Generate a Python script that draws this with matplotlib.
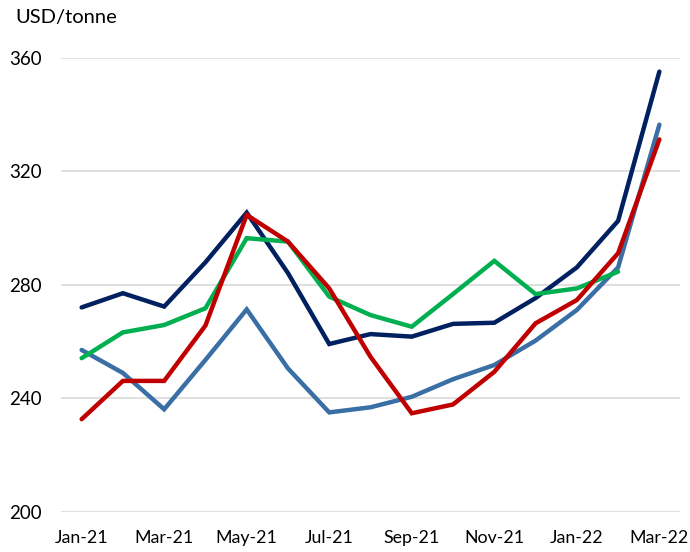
import matplotlib
matplotlib.use('Agg')
from matplotlib import pyplot as pl

months = ['Jan-21', 'Feb-21', 'Mar-21', 'Apr-21', 'May-21', 'Jun-21', 'Jul-21', 'Aug-21',
          'Sep-21', 'Oct-21', 'Nov-21', 'Dec-21', 'Jan-22', 'Feb-22', 'Mar-22']

navy = [272.1, 277.1, 272.4, 288.0, 305.5, 284.2, 259.2, 262.7,
        261.8, 266.3, 266.7, 275.4, 286.2, 302.6, 355.2]
steel = [257.1, 249.0, 236.2, 253.6, 271.4, 250.6, 235.1, 236.9,
         240.6, 246.8, 251.8, 260.4, 271.2, 286.2, 336.5]
red = [232.7, 246.2, 246.2, 265.7, 304.7, 295.3, 278.8, 254.7,
       234.8, 237.9, 249.4, 266.5, 274.7, 291.2, 331.3]
green = [254.2, 263.3, 265.9, 271.8, 296.5, 295.3, 275.9, 269.4,
         265.3, 276.8, 288.5, 276.8, 278.8, 284.7]

yticks = [200, 240, 280, 320, 360]

pl.rcParams['font.family'] = ['Lato', 'DejaVu Sans']

fig = pl.figure(figsize=(6.9, 5.52), dpi=100)
ax = fig.add_axes([61/690, 40/552, 619/690, 454/552])

x = list(range(len(months)))
for vals, c in [(steel, '#3A6FA6'), (navy, '#002060'), (green, '#00B050'), (red, '#C00000')]:
    ax.plot(x[:len(vals)], vals, color=c, lw=3.2, solid_capstyle='round',
            solid_joinstyle='miter', clip_on=False, zorder=3)

ax.set_xlim(-0.5, len(months) - 0.5)
ax.set_ylim(200, 360)
ax.set_yticks(yticks)
ax.set_xticks(x[::2])
ax.set_xticklabels(months[::2])
ax.grid(axis='y', color='#D9D9D9', lw=1.2)
ax.set_axisbelow(True)
for s in ax.spines.values():
    s.set_visible(False)
ax.tick_params(length=0, labelsize=13.5, colors='#000000')
ax.tick_params(axis='y', pad=14)
ax.tick_params(axis='x', labelsize=12.8, pad=13)

fig.text(15/690, 1 - 17/552, 'USD/tonne', fontsize=14.5, va='center', ha='left')

pl.savefig('out.png', dpi=100)
